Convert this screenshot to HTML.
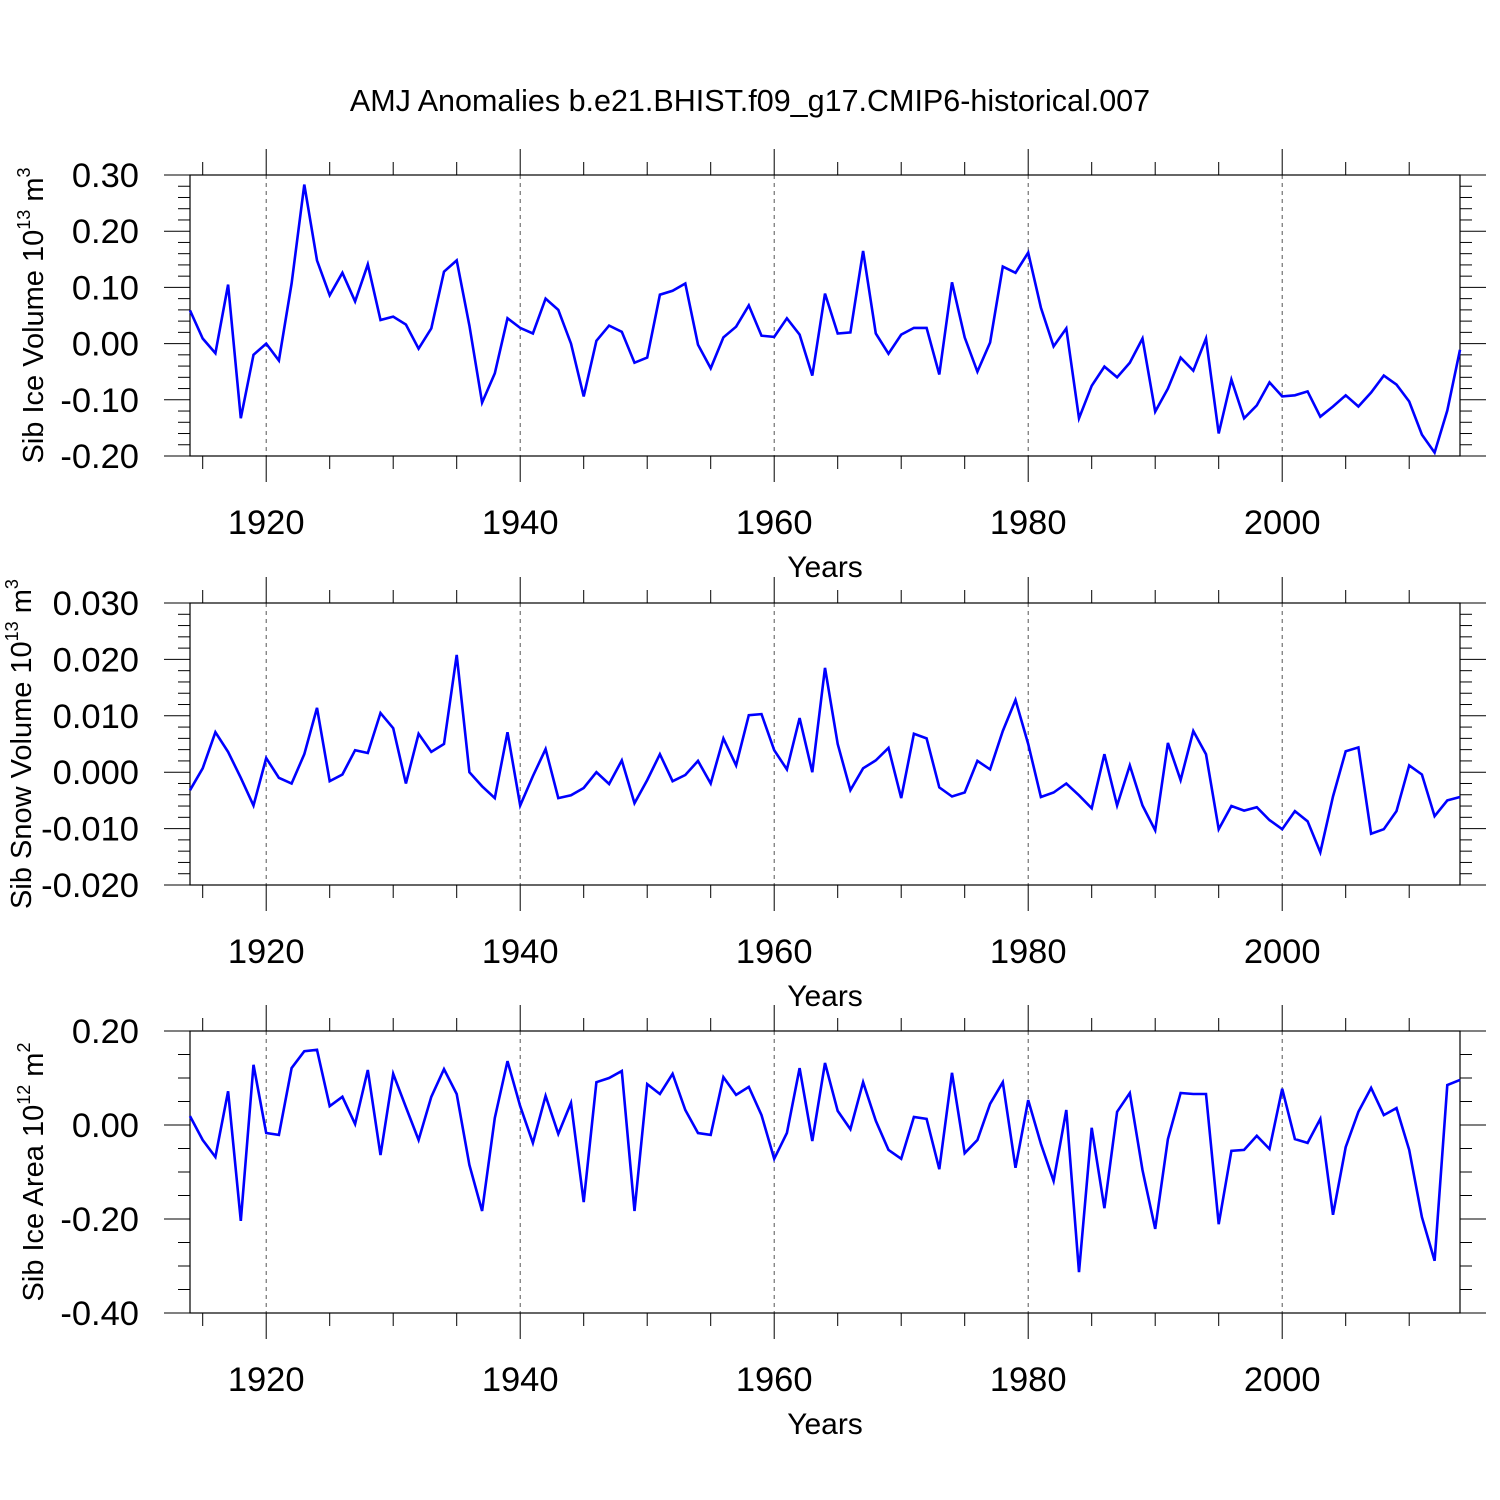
<!DOCTYPE html>
<html><head><meta charset="utf-8"><style>
html,body{margin:0;padding:0;background:#fff;}
svg{display:block;font-family:"Liberation Sans",Arial,sans-serif;}
</style></head><body>
<svg id="chart" width="1500" height="1500" viewBox="0 0 1500 1500" xmlns="http://www.w3.org/2000/svg">
<rect width="1500" height="1500" fill="#fff"/>
<text x="750" y="111" font-size="30.5" text-anchor="middle">AMJ Anomalies b.e21.BHIST.f09_g17.CMIP6-historical.007</text>
</svg>
<script>
const startYear = 1914;
const iceVolume = [0.059,0.009,-0.017,0.105,-0.133,-0.02,0.0,-0.03,0.107,0.283,0.148,0.086,0.126,0.075,0.141,0.042,0.048,0.034,-0.009,0.027,0.128,0.148,0.032,-0.105,-0.053,0.045,0.028,0.018,0.08,0.06,0.0,-0.094,0.005,0.032,0.021,-0.034,-0.025,0.087,0.094,0.107,-0.002,-0.044,0.011,0.03,0.068,0.014,0.012,0.045,0.016,-0.057,0.089,0.018,0.02,0.165,0.018,-0.018,0.016,0.028,0.028,-0.055,0.109,0.011,-0.05,0.002,0.137,0.126,0.162,0.064,-0.005,0.027,-0.133,-0.075,-0.041,-0.06,-0.034,0.009,-0.121,-0.08,-0.025,-0.048,0.009,-0.16,-0.064,-0.133,-0.11,-0.069,-0.094,-0.092,-0.085,-0.13,-0.112,-0.092,-0.112,-0.087,-0.057,-0.073,-0.103,-0.162,-0.194,-0.119,-0.011];
const snowVolume = [-0.0032,0.0007,0.0071,0.0036,-0.001,-0.0059,0.0025,-0.001,-0.002,0.0032,0.0114,-0.0016,-0.0004,0.0039,0.0034,0.0105,0.0078,-0.002,0.0068,0.0036,0.005,0.0208,0,-0.0025,-0.0046,0.0071,-0.0059,-0.0007,0.0041,-0.0046,-0.0041,-0.0028,0,-0.0021,0.0021,-0.0055,-0.0014,0.0032,-0.0016,-0.0005,0.002,-0.002,0.006,0.0012,0.0101,0.0103,0.0039,0.0005,0.0096,0,0.0185,0.005,-0.0032,0.0007,0.0021,0.0043,-0.0046,0.0068,0.006,-0.0027,-0.0043,-0.0036,0.002,0.0005,0.0073,0.0128,0.005,-0.0044,-0.0036,-0.002,-0.0041,-0.0064,0.0032,-0.0059,0.0012,-0.0059,-0.0103,0.0052,-0.0014,0.0073,0.0032,-0.0101,-0.006,-0.0068,-0.0062,-0.0085,-0.0101,-0.0069,-0.0087,-0.0142,-0.0043,0.0037,0.0044,-0.0109,-0.0101,-0.0069,0.0012,-0.0004,-0.0078,-0.005,-0.0044];
const iceArea = [0.019,-0.032,-0.068,0.072,-0.204,0.128,-0.017,-0.021,0.121,0.157,0.16,0.04,0.06,0.002,0.117,-0.064,0.109,0.038,-0.032,0.06,0.119,0.066,-0.085,-0.183,0.015,0.136,0.04,-0.038,0.062,-0.019,0.047,-0.164,0.091,0.1,0.115,-0.183,0.087,0.066,0.109,0.032,-0.017,-0.021,0.102,0.064,0.081,0.021,-0.072,-0.017,0.121,-0.034,0.132,0.03,-0.009,0.091,0.009,-0.053,-0.072,0.017,0.013,-0.094,0.111,-0.06,-0.032,0.045,0.091,-0.091,0.053,-0.04,-0.119,0.032,-0.313,-0.006,-0.177,0.028,0.068,-0.096,-0.221,-0.03,0.068,0.066,0.066,-0.211,-0.055,-0.053,-0.023,-0.051,0.077,-0.03,-0.038,0.013,-0.191,-0.047,0.028,0.079,0.021,0.036,-0.053,-0.196,-0.289,0.085,0.096];
const xTickLabels = ["1920","1940","1960","1980","2000"];
const iceVolTicks = ["0.30","0.20","0.10","0.00","-0.10","-0.20"];
const snowTicks = ["0.030","0.020","0.010","0.000","-0.010","-0.020"];
const areaTicks = ["0.20","0.00","-0.20","-0.40"];

const svg = document.getElementById('chart');
const NS = 'http://www.w3.org/2000/svg';
function mk(tag, attrs, parent){const e=document.createElementNS(NS,tag);for(const k in attrs)e.setAttribute(k,attrs[k]);(parent||svg).appendChild(e);return e;}
const X0=190, X1=1460, xmin=1914, xmax=2014;
function xs(yr){return X0+(yr-xmin)/(xmax-xmin)*(X1-X0);}

const panels = [
 {name:'ice-volume', top:175, bot:456, ymax:0.30, ymin:-0.20, major:0.1, minor:0.02, ticks:iceVolTicks, data:iceVolume, title:'Sib Ice Volume 10', sup:'13', unit:' m', usup:'3', tx:33},
 {name:'snow-volume', top:603, bot:885, ymax:0.030, ymin:-0.020, major:0.01, minor:0.002, ticks:snowTicks, data:snowVolume, title:'Sib Snow Volume 10', sup:'13', unit:' m', usup:'3', tx:21},
 {name:'ice-area', top:1031, bot:1313, ymax:0.20, ymin:-0.40, major:0.2, minor:0.05, ticks:areaTicks, data:iceArea, title:'Sib Ice Area 10', sup:'12', unit:' m', usup:'2', tx:33}
];

panels.forEach(p=>{
  const g = mk('g',{});
  
  
  const ys = v => p.top+(p.ymax-v)/(p.ymax-p.ymin)*(p.bot-p.top);
  for(let yr=1920; yr<=2000; yr+=20){
    const l=mk('line',{x1:xs(yr),x2:xs(yr),y1:p.top,y2:p.bot,stroke:'#555','stroke-width':1,'stroke-dasharray':'4,4'},g);
    
    
  }
  for(let yr=1915; yr<=2010; yr+=5){
    const maj = yr%20===0, len = maj?26:13;
    mk('line',{x1:xs(yr),x2:xs(yr),y1:p.top,y2:p.top-len,stroke:'#000','stroke-width':1},g);
    mk('line',{x1:xs(yr),x2:xs(yr),y1:p.bot,y2:p.bot+len,stroke:'#000','stroke-width':1},g);
  }
  xTickLabels.forEach(t=>{
    const tx=mk('text',{x:xs(+t),y:p.bot+78,'font-size':34.5,'text-anchor':'middle'},g);
    tx.textContent=t;
    
    
  });
  const xt=mk('text',{x:825,y:p.bot+121,'font-size':30,'text-anchor':'middle'},g);
  xt.textContent='Years';
  
  
  const nMinor=Math.round((p.ymax-p.ymin)/p.minor), ratio=Math.round(p.major/p.minor);
  for(let i=0;i<=nMinor;i++){
    const v=p.ymax-i*p.minor, y=ys(v), maj=i%ratio===0, len=maj?26:12;
    mk('line',{x1:X0,x2:X0-len,y1:y,y2:y,stroke:'#000','stroke-width':1},g);
    mk('line',{x1:X1,x2:X1+len,y1:y,y2:y,stroke:'#000','stroke-width':1},g);
  }
  p.ticks.forEach(t=>{
    const tx=mk('text',{x:139,y:ys(+t)+12,'font-size':34.5,'text-anchor':'end'},g);
    tx.textContent=t;
    
    
  });
  const cy=(p.top+p.bot)/2;
  const yt=mk('text',{x:0,y:0,'font-size':29,'text-anchor':'middle',transform:`translate(${p.tx+10},${cy}) rotate(-90)`},g);
  
  
  const a=document.createElementNS(NS,'tspan');a.textContent=p.title;yt.appendChild(a);
  const b=document.createElementNS(NS,'tspan');b.setAttribute('dy','-13');b.setAttribute('font-size','18');b.textContent=p.sup;yt.appendChild(b);
  const c=document.createElementNS(NS,'tspan');c.setAttribute('dy','13');c.textContent=p.unit;yt.appendChild(c);
  const d=document.createElementNS(NS,'tspan');d.setAttribute('dy','-13');d.setAttribute('font-size','18');d.textContent=p.usup;yt.appendChild(d);
  const fr=mk('rect',{x:X0,y:p.top,width:X1-X0,height:p.bot-p.top,fill:'none',stroke:'#000','stroke-width':1.2},g);
  
  
  const pts=p.data.map((v,i)=>xs(startYear+i).toFixed(1)+','+ys(v).toFixed(1)).join(' ');
  const pl=mk('polyline',{points:pts,fill:'none',stroke:'#0000ff','stroke-width':2.6,'stroke-linejoin':'miter'},g);
  
  
});
</script>
</body></html>
